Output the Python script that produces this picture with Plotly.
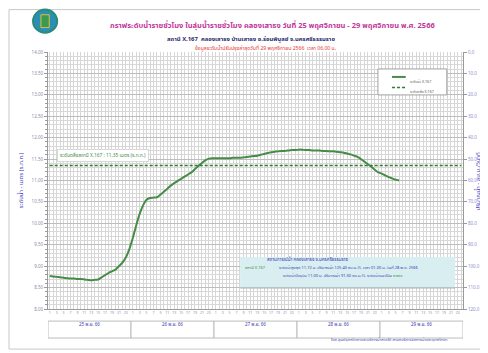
import plotly.graph_objects as go

# hourly water level, X.167, from 25 Nov 01:00 to 29 Nov 06:00 (m. MSL)
days = ["25 พ.ย. 66", "26 พ.ย. 66", "27 พ.ย. 66", "28 พ.ย. 66", "29 พ.ย. 66"]
hours = list(range(1, 25))
water_level = [
    8.77, 8.76, 8.75, 8.74, 8.73, 8.72, 8.71, 8.71, 8.70, 8.70, 8.69, 8.68,
    8.67, 8.68, 8.69, 8.74, 8.79, 8.84, 8.88, 8.92, 9.00, 9.08, 9.20, 9.39,
    9.65, 9.95, 10.22, 10.42, 10.55, 10.59, 10.60, 10.61, 10.67, 10.74, 10.81, 10.88,
    10.94, 10.99, 11.04, 11.09, 11.14, 11.19, 11.27, 11.34, 11.41, 11.47, 11.51, 11.52,
    11.52, 11.52, 11.52, 11.52, 11.52, 11.53, 11.53, 11.53, 11.54, 11.55, 11.56, 11.57,
    11.58, 11.60, 11.62, 11.64, 11.66, 11.67, 11.68, 11.69, 11.69, 11.70, 11.71, 11.71,
    11.72, 11.72, 11.71, 11.71, 11.70, 11.70, 11.70, 11.69, 11.69, 11.68, 11.68, 11.67,
    11.66, 11.65, 11.63, 11.61, 11.58, 11.55, 11.50, 11.44, 11.38, 11.32, 11.25, 11.19,
    11.16, 11.12, 11.08, 11.05, 11.02, 11.00,
]
bank_level = 11.35
level_ticks = [8.0 + 0.5 * i for i in range(13)]
flow_ticks = [10.0 * i for i in range(13)]

THAI = "Noto Sans Thai, Tahoma, Noto Sans, sans-serif"
GREEN = "#468c46"
DASH_GREEN = "#2f7d2f"
BLUE = "#3b3bb8"
TICK = "#8a8da8"

n_slots = len(days) * len(hours)
x_all = list(range(n_slots))
x_level = x_all[:len(water_level)]
tickvals = [d * 24 + h - 1 for d in range(len(days)) for h in hours if h % 2 == 1]
ticktext = [str(h) for d in range(len(days)) for h in hours if h % 2 == 1]

fig = go.Figure()

fig.add_trace(go.Scatter(
    x=x_level, y=water_level, mode="lines", name="ระดับน้ำ X.167", showlegend=False,
    line=dict(color=GREEN, width=2, shape="spline", smoothing=0.6),
))
fig.add_trace(go.Scatter(
    x=x_all, y=[bank_level] * n_slots, mode="lines", name="ระดับตลิ่ง X.167", showlegend=False,
    line=dict(color=DASH_GREEN, width=1.5, dash="3px,2px"),
))
# empty trace so the right discharge axis is drawn
fig.add_trace(go.Scatter(x=[None], y=[None], yaxis="y2", showlegend=False, hoverinfo="skip"))

shapes = []
# outer frame
shapes.append(dict(type="rect", xref="paper", yref="paper", x0=-0.094, x1=1.2, y0=-0.156, y1=1.165,
                   line=dict(color="#c8c8c8", width=1), layer="below"))
# day boxes under the axis
for d in range(len(days)):
    shapes.append(dict(type="rect", xref="x", yref="paper", x0=d * 24 - 0.5, x1=(d + 1) * 24 - 0.5,
                       y0=-0.113, y1=-0.047, line=dict(color="#bcbcbc", width=1), fillcolor="white"))
# info box
shapes.append(dict(type="rect", xref="paper", yref="paper", x0=0.463, x1=0.981, y0=0.082, y1=0.202,
                   line=dict(width=0), fillcolor="#d8eef0"))
shapes.append(dict(type="line", xref="paper", yref="paper", x0=0.463, x1=0.981, y0=0.082, y1=0.082,
                   line=dict(color="#9aa8a8", width=1)))
# legend box
shapes.append(dict(type="rect", xref="paper", yref="paper", x0=0.795, x1=0.961, y0=0.833, y1=0.934,
                   line=dict(color="#a0a0a0", width=1), fillcolor="white"))
shapes.append(dict(type="line", xref="paper", yref="paper", x0=0.829, x1=0.862, y0=0.903, y1=0.903,
                   line=dict(color=GREEN, width=2)))
shapes.append(dict(type="line", xref="paper", yref="paper", x0=0.829, x1=0.862, y0=0.862, y1=0.862,
                   line=dict(color=DASH_GREEN, width=1.5, dash="3px,2px")))
# logo
shapes.append(dict(type="circle", xref="paper", yref="paper", x0=-0.036, x1=0.022, y0=1.075, y1=1.165,
                   line=dict(color="#2b8a7a", width=2), fillcolor="#2a8fb5"))
shapes.append(dict(type="rect", xref="paper", yref="paper", x0=-0.017, x1=0.003, y0=1.095, y1=1.145,
                   line=dict(color="#e0c040", width=1), fillcolor="#3a9a50"))

annotations = [
    dict(text="<b>กราฟระดับน้ำรายชั่วโมง ในลุ่มน้ำรายชั่วโมง คลองเสาธง วันที่ 25 พฤศจิกายน - 29 พฤศจิกายน พ.ศ. 2566</b>",
         x=0.542, y=1.132, font=dict(size=7.5, color="#c2379c")),
    dict(text="<b>สถานี X.167  คลองเสาธง บ้านเสาธง อ.ร่อนพิบูลย์ จ.นครศรีธรรมราช</b>",
         x=0.49, y=1.074, font=dict(size=5.9, color="#2a2a6e")),
    dict(text="ข้อมูลระดับน้ำปรับปรุงล่าสุดวันที่ 29 พฤศจิกายน 2566  เวลา 06.00 น.",
         x=0.523, y=1.037, font=dict(size=5.1, color="#e53935")),
    dict(text="ระดับตลิ่งสถานี X.167 : 11.35 เมตร (ร.ท.ก.)", x=2.0, y=11.58, xref="x", yref="y",
         xanchor="left", font=dict(size=4.8, color=GREEN), bgcolor="white",
         bordercolor="#d8d8d8", borderwidth=1, borderpad=2),
    dict(text="ระดับน้ำ X.167", x=0.867, y=0.903, xanchor="left", font=dict(size=3.6, color="#555")),
    dict(text="ระดับตลิ่ง X.167", x=0.867, y=0.862, xanchor="left", font=dict(size=3.6, color="#555")),
    dict(text="สถานการณ์น้ำ คลองเสาธง จ.นครศรีธรรมราช", x=0.728, y=0.171, font=dict(size=4.5, color=BLUE)),
    dict(text="สถานี X.167", x=0.47, y=0.14, xanchor="left", font=dict(size=4, color=GREEN)),
    dict(text="ระดับน้ำสูงสุด 11.72 ม. ปริมาณน้ำ 125.40 ลบ.ม./วิ. เวลา 01.00 น. วันที่ 28 พ.ย. 2566",
         x=0.552, y=0.14, xanchor="left", font=dict(size=4, color=BLUE)),
    dict(text="ระดับน้ำปัจจุบัน 11.00 ม. ปริมาณน้ำ 91.30 ลบ.ม./วิ. ระดับน้ำแนวโน้ม <span style='color:#2e9a2e'>ลดลง</span>",
         x=0.561, y=0.109, xanchor="left", font=dict(size=4, color=BLUE)),
    dict(text="โดย ศูนย์อุทกวิทยาและบริหารน้ำภาคใต้ สำนักบริหารจัดการน้ำและอุทกวิทยา",
         x=0.969, y=-0.14, xanchor="right", font=dict(size=4, color=BLUE)),
    # right axis title, partly running off the page edge as in the original
    dict(text="ปริมาณน้ำ - ลบ.ม./วินาที", x=1.053, y=0.5, textangle=-90,
         font=dict(size=6, color=BLUE)),
]
for d, day in enumerate(days):
    annotations.append(dict(text=day, x=d * 24 + 11.5, xref="x", y=-0.08, font=dict(size=4.5, color=BLUE)))
for a in annotations:
    a.setdefault("xref", "paper")
    a.setdefault("yref", "paper")
    a["showarrow"] = False
    a["font"]["family"] = THAI

# the page adds an 8px body margin, so the figure is 8px smaller than the window
fig.update_layout(
    width=480, height=345,
    margin=dict(l=40, r=25, t=44, b=44, autoexpand=False),
    paper_bgcolor="white", plot_bgcolor="white",
    font=dict(family=THAI, size=5, color=TICK),
    showlegend=False,
    xaxis=dict(range=[-0.5, n_slots - 0.5], tickvals=tickvals, ticktext=ticktext,
               tickfont=dict(size=3.5, color=TICK), showgrid=True, gridcolor="#d6d6d6", gridwidth=0.5,
               minor=dict(dtick=1, tick0=0, showgrid=True, gridcolor="#d6d6d6", gridwidth=0.5),
               showline=True, linecolor="#9a9a9a", ticks="", zeroline=False, fixedrange=True,
               automargin=False),
    yaxis=dict(range=[8, 14], tickvals=level_ticks, tickformat=".2f",
               tickfont=dict(size=4.5, color=TICK), showgrid=True, gridcolor="#bdbdbd", gridwidth=0.7,
               minor=dict(dtick=0.1, showgrid=True, gridcolor="#d8d8d8", gridwidth=0.5, ticks="outside",
                          ticklen=2, tickcolor="#9a9a9a"),
               ticks="outside", ticklen=3, tickcolor="#9a9a9a",
               showline=True, linecolor="#9a9a9a", zeroline=False,
               title=dict(text="ระดับน้ำ - เมตร (ร.ท.ก.)", font=dict(size=6, color=BLUE), standoff=7),
               fixedrange=True, automargin=False),
    yaxis2=dict(range=[120, 0], tickvals=flow_ticks, tickformat=".1f", overlaying="y", side="right",
                tickfont=dict(size=4.5, color="#8a8fd0"), showgrid=False, zeroline=False,
                showline=True, linecolor="#9a9a9a", ticks="outside", ticklen=3, tickcolor="#9a9a9a",
                fixedrange=True, automargin=False),
    shapes=shapes,
    annotations=annotations,
)

fig.write_html("out.html")
